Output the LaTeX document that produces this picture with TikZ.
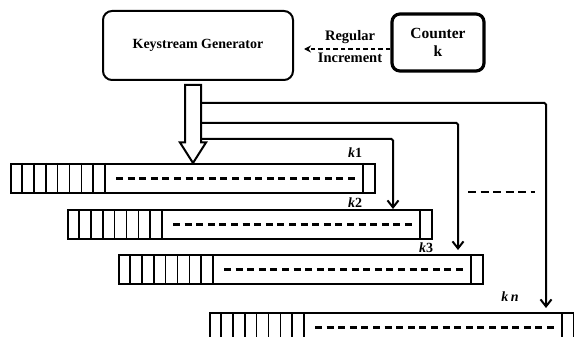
\documentclass[tikz,border=0pt]{standalone}
\usepackage{fontspec}
\setmainfont{Liberation Serif}
\usetikzlibrary{arrows.meta,calc}
\begin{document}
\begin{tikzpicture}[x=1pt,y=-1pt,
  box/.style={draw,line width=2pt,rounded corners=9pt,inner sep=0pt,font=\bfseries\fontsize{14}{19}\selectfont,align=center},
  reg/.style={draw,line width=2pt,minimum width=364pt,minimum height=29pt,inner sep=0pt},
  cellline/.style={line width=1.7pt},
  dashline/.style={line width=2.2pt,dash pattern=on 7pt off 4.6pt},
  conn/.style={line width=2pt,rounded corners=1.5pt,-{Straight Barb[length=7pt,width=11pt,line width=2pt]}},
  klabel/.style={font=\bfseries\fontsize{14}{16}\selectfont,inner sep=0pt},
  lbl/.style={font=\bfseries\fontsize{14.5}{16}\selectfont,inner sep=0pt}
]
\clip (0,0) rectangle (574,337);
\fill[white] (0,0) rectangle (574,337);

% top boxes
\node[box,minimum width=190pt,minimum height=69pt] (gen) at (198,45.5) {Keystream Generator};
\node[box,line width=3.2pt,minimum width=92pt,minimum height=57pt,rounded corners=8pt,font=\bfseries\fontsize{15.5}{19}\selectfont] (ctr) at (438,42.5) {Counter\\[-1pt]k};

% dashed increment arrow
\coordinate (inc) at (304,49);
\draw[line width=1.8pt,dash pattern=on 4.5pt off 3pt,-{Stealth[length=7pt,width=7pt]}] (ctr.west |- inc) -- (inc);
\node[lbl] (regl) at (350,37.5) {Regular};
\node[lbl] (incl) at (350,58) {Increment};

% registers
\foreach \nm/\lx/\ty in {r1/10/163, r2/67/209, r3/118/254, rn/209/312} {
  \node[reg,anchor=north west] (\nm) at (\lx,\ty) {};
  \foreach \i [evaluate=\i as \xx using \i*11.9] in {1,...,7}
    \draw[cellline] ($(\nm.north west)+(\xx,0)$) -- ($(\nm.south west)+(\xx,0)$);
  \draw[line width=2pt] ($(\nm.north west)+(95,0)$) -- ($(\nm.south west)+(95,0)$);
  \draw[line width=2pt] ($(\nm.north east)+(-13,0)$) -- ($(\nm.south east)+(-13,0)$);
  \draw[dashline] ($(\nm.west)+(106,0)$) -- ($(\nm.east)+(-20,0)$);
}

% hollow arrow
\draw[line width=2pt,fill=white,line join=miter]
  (185,85) -- (185,142.5) -- (180,142.5) -- (193,163) -- (206,142.5) -- (201,142.5) -- (201,85) -- cycle;

% connectors
\coordinate (s1) at (201,103);
\coordinate (s2) at (201,123);
\coordinate (s3) at (201,139);
\coordinate (t2) at ($(r2.north west)+(326,0)$);
\coordinate (t3) at ($(r3.north west)+(340,-4)$);
\coordinate (tn) at ($(rn.north west)+(337,-4)$);
\draw[conn] (s3) -| (t2);
\draw[conn] (s2) -| (t3);
\draw[conn] (s1) -| (tn);

% labels
\node[klabel] (k1) at (355,153) {\textit{k}1};
\node[klabel] (k2) at (355,203) {\textit{k}2};
\node[klabel] (k3) at (426,248) {\textit{k}3};
\node[klabel] (kn) at (510,297) {\textit{k}\,\textit{n}};

% ellipsis dashes
\coordinate (d1) at (468,192);
\coordinate (d2) at (535,192);
\draw[line width=2.6pt,dash pattern=on 8pt off 4.5pt] (d1) -- (d2);
\end{tikzpicture}
\end{document}
